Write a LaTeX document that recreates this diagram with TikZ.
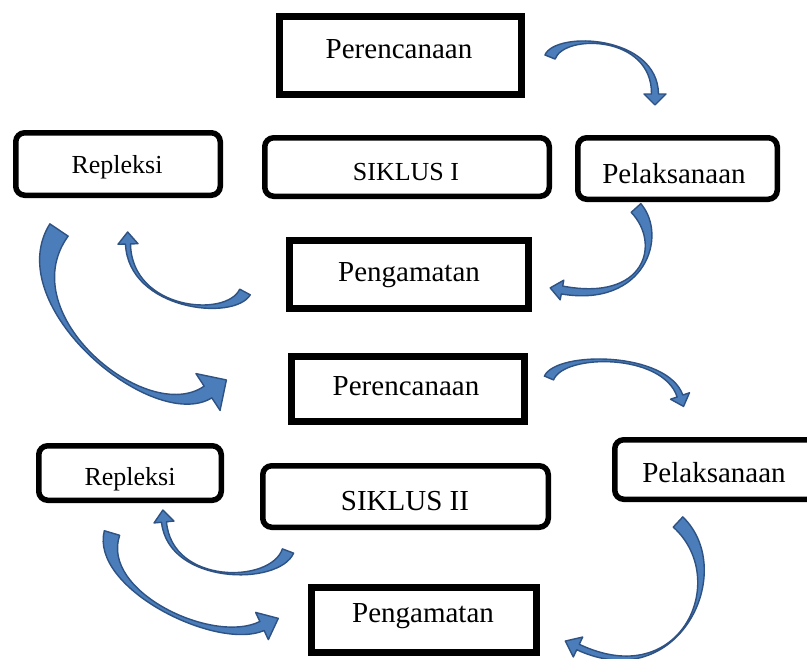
\documentclass[tikz,border=0pt]{standalone}
\usepackage{fontspec}
\setmainfont{Liberation Serif}
\usetikzlibrary{calc}
\definecolor{arrowfill}{HTML}{4A7DBA}
\definecolor{arrowline}{HTML}{2E5283}
\tikzset{
  sharpbox/.style={draw=black, line width=7pt, fill=white, inner sep=0pt},
  roundbox/.style={draw=black, line width=5.5pt, fill=white, inner sep=0pt, rounded corners=9pt},
  lbl/.style={inner sep=0pt, anchor=base, font=\fontsize{29}{34}\selectfont},
  lblsmall/.style={lbl, font=\fontsize{26}{31}\selectfont},
  blockarrowstyle/.style={fill=arrowfill, draw=arrowline, line width=1.4pt, line join=round}
}
% #1 tail centre, #2 control 1, #3 control 2, #4 head-base centre,
% #5 tail half width, #6 body half width at head, #7 head half width, #8 head length, #9 control offset factor
\newcommand{\blockarrow}[9]{%
  \coordinate (p0) at #1; \coordinate (c1) at #2; \coordinate (c2) at #3; \coordinate (p3) at #4;
  \coordinate (aL) at ($(p0)!#5!90:(c1)$);
  \coordinate (aR) at ($(p0)!#5!-90:(c1)$);
  \coordinate (bL) at ($(p3)!#6!-90:(c2)$);
  \coordinate (bR) at ($(p3)!#6!90:(c2)$);
  \coordinate (hL) at ($(p3)!#7!-90:(c2)$);
  \coordinate (hR) at ($(p3)!#7!90:(c2)$);
  \coordinate (tip) at ($(p3)!-#8!(c2)$);
  \coordinate (dL0) at ($(aL)-(p0)$);
  \coordinate (dR0) at ($(aR)-(p0)$);
  \coordinate (dL3) at ($(bL)-(p3)$);
  \coordinate (dR3) at ($(bR)-(p3)$);
  \filldraw[blockarrowstyle] (aL) .. controls ($(c1)+#9*(dL0)$) and ($(c2)+#9*(dL3)$) .. (bL)
    -- (hL) -- (tip) -- (hR) -- (bR)
    .. controls ($(c2)+#9*(dR3)$) and ($(c1)+#9*(dR0)$) .. (aR) -- cycle;
}
\begin{document}
\begin{tikzpicture}[x=1pt, y=-1pt]
\useasboundingbox (0,0) rectangle (807,659);
\clip (0,0) rectangle (807,659);
\fill[white] (0,0) rectangle (807,659);

% Cycle I boxes
\node[sharpbox, minimum width=242pt, minimum height=78pt] (per1) at (400.5,55.5) {};
\node[roundbox, minimum width=284.5pt, minimum height=58.5pt] (sik1) at (407,167) {};
\node[roundbox, minimum width=199.5pt, minimum height=61.5pt] (pel1) at (677.5,168.5) {};
\node[roundbox, minimum width=204.5pt, minimum height=62.5pt] (rep1) at (118,164) {};
\node[sharpbox, minimum width=239pt, minimum height=68pt] (pen1) at (409,274.5) {};

% Cycle II boxes
\node[sharpbox, minimum width=233pt, minimum height=65pt] (per2) at (408,389) {};
\node[roundbox, minimum width=182.5pt, minimum height=54.5pt] (rep2) at (130,473) {};
\node[roundbox, minimum width=285.5pt, minimum height=61.5pt] (sik2) at (405.5,496.5) {};
\node[roundbox, minimum width=202.5pt, minimum height=59.5pt] (pel2) at (716,469.5) {};
\node[sharpbox, minimum width=225pt, minimum height=65pt] (pen2) at (424,620) {};

% Labels
\node[lbl] (tper1) at (399,58) {Perencanaan};
\node[lblsmall] (tsik1) at (406,180) {SIKLUS I};
\node[lbl] (tpel1) at (674,183) {Pelaksanaan};
\node[lblsmall] (trep1) at (117,173) {Repleksi};
\node[lbl] (tpen1) at (409,281) {Pengamatan};
\node[lbl] (tper2) at (406,395) {Perencanaan};
\node[lblsmall] (trep2) at (130,485) {Repleksi};
\node[lbl] (tsik2) at (405,510) {SIKLUS II};
\node[lbl] (tpel2) at (714,482) {Pelaksanaan};
\node[lbl] (tpen2) at (423,622) {Pengamatan};

% Curved block arrows
\blockarrow{(550,57)}{(560,32)}{(655,35)}{(655,94)}{5.5pt}{3.5pt}{11pt}{11pt}{0.8}
\blockarrow{(636,208)}{(665,240)}{(645,305)}{(562,290)}{6.5pt}{4pt}{10pt}{12pt}{0.8}
\blockarrow{(245,292)}{(230,320)}{(130,310)}{(128,244)}{6pt}{2.5pt}{10pt}{12pt}{0.7}
\blockarrow{(59,230)}{(5,310)}{(150,430)}{(208,392)}{11pt}{7pt}{22pt}{22pt}{0.7}
\blockarrow{(549,378)}{(560,352)}{(665,352)}{(680,396)}{5pt}{3pt}{10pt}{11pt}{0.8}
\blockarrow{(678,522)}{(735,575)}{(680,695)}{(578,647)}{7pt}{3pt}{11pt}{14pt}{0.8}
\blockarrow{(288,551)}{(275,585)}{(170,585)}{(164,522)}{6pt}{2.5pt}{10pt}{12pt}{0.7}
\blockarrow{(112,533)}{(95,590)}{(215,648)}{(262,626)}{8pt}{5pt}{15pt}{18pt}{0.7}
\end{tikzpicture}
\end{document}
